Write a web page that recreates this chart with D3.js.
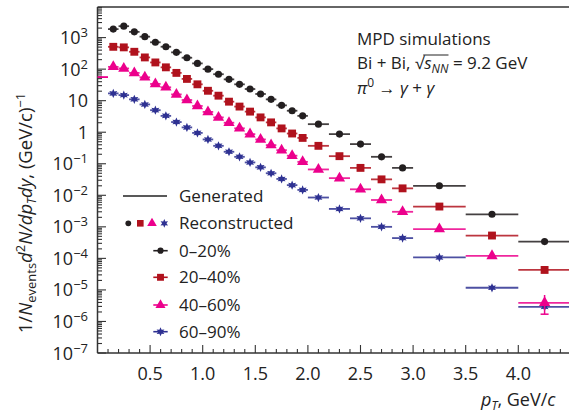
<!DOCTYPE html>
<html><head><meta charset="utf-8">
<script src="https://cdn.jsdelivr.net/npm/d3@7"></script>
<style>body{margin:0;background:#fff}svg{display:block;font-family:"Open Sans",sans-serif}</style>
</head><body><svg id="c" width="569" height="413"></svg>
<script>
// ---- data ----
const binLo = [0.1,0.2,0.3,0.4,0.5,0.6,0.7,0.8,0.9,1.0,1.1,1.2,1.3,1.4,1.5,1.6,1.7,1.8,1.9,2.0,2.2,2.4,2.6,2.8,3.0,3.5,4.0];
const binHi = [0.2,0.3,0.4,0.5,0.6,0.7,0.8,0.9,1.0,1.1,1.2,1.3,1.4,1.5,1.6,1.7,1.8,1.9,2.0,2.2,2.4,2.6,2.8,3.0,3.5,4.0,4.5];
const pT    = [0.15,0.25,0.35,0.45,0.55,0.65,0.75,0.85,0.95,1.05,1.15,1.25,1.35,1.45,1.55,1.65,1.75,1.85,1.95,2.1,2.3,2.5,2.7,2.9,3.25,3.75,4.25];
const c0_20  = [1860,2300,1520,1070,710,513,340,230,152,100,69,47.4,33,23.4,16.3,11,7.1,4.8,3.3,1.8,0.87,0.42,0.166,0.074,0.020,0.0025,0.00034];
const c20_40 = [510,490,355,235,163,114,76,49,33,20.6,14.4,9.3,6.5,4.5,2.95,2.05,1.32,0.91,0.66,0.37,0.174,0.074,0.032,0.0166,0.0044,0.00053,0.000043];
const c40_60 = [118,105,76,55,34,26.5,15.8,10.5,6.8,4.4,2.95,2.0,1.33,0.87,0.59,0.39,0.27,0.18,0.115,0.066,0.035,0.0155,0.0071,0.0030,0.00085,0.00012,0.0000039];
const c60_90 = [17,15,11,7.6,5.0,3.3,2.1,1.42,0.95,0.59,0.37,0.24,0.166,0.11,0.077,0.050,0.033,0.021,0.0148,0.0085,0.0037,0.00186,0.0010,0.00044,0.000107,0.0000117,0.0000029];
const seriesNames = ["0–20%","20–40%","40–60%","60–90%"];
const seriesColors = ["#231f20","#b0121d","#ec008c","#2e3192"];
const seriesValues = [c0_20, c20_40, c40_60, c60_90];
// extra generated segment in first bin (40–60%)
const extraGen = {series:2, lo:0.0, hi:0.1, value:56};
// vertical error of last 40–60% point
const lastErr = {series:2, idx:26, lo:1.7e-6, hi:6.9e-6};
const xTicks = [0.5,1.0,1.5,2.0,2.5,3.0,3.5,4.0];
const yDecades = [-7,-6,-5,-4,-3,-2,-1,0,1,2,3];

// six-pointed star symbol
const star6 = {draw(ctx,size){const r=Math.sqrt(size/1.6), ri=r*0.5;for(let k=0;k<12;k++){const a=-Math.PI/2+k*Math.PI/6, rr=k%2?ri:r; const px=rr*Math.cos(a), py=rr*Math.sin(a); k?ctx.lineTo(px,py):ctx.moveTo(px,py);}ctx.closePath();}};
const seriesSymbols = [d3.symbolCircle, d3.symbolSquare, d3.symbolTriangle, star6];

// ---- scales ----
const svg = d3.select("#c");
const x = d3.scaleLinear().domain([0,4.482]).range([97.5,569]);
const y = d3.scaleLog().domain([1e-7, Math.pow(10,3.97)]).range([353,7]);
const axisColor = "#333";

// frame
svg.append("line").attr("x1",97.5).attr("x2",569).attr("y1",7).attr("y2",7).attr("stroke",axisColor).attr("stroke-width",1.5);
svg.append("line").attr("x1",97.5).attr("x2",569).attr("y1",353).attr("y2",353).attr("stroke",axisColor).attr("stroke-width",1.5);
svg.append("line").attr("x1",97.5).attr("x2",97.5).attr("y1",7).attr("y2",353).attr("stroke",axisColor).attr("stroke-width",1.5);

// x ticks
const xMinor = d3.range(1,45).map(i=>i/10);
svg.append("g").selectAll("line").data(xMinor).join("line")
  .attr("x1",d=>x(d)).attr("x2",d=>x(d))
  .attr("y1",353).attr("y2",d=>Math.abs(d*2-Math.round(d*2))<1e-6?345:349)
  .attr("stroke",axisColor).attr("stroke-width",1.1);
svg.append("g").selectAll("text").data(xTicks).join("text")
  .attr("x",d=>x(d)).attr("y",380).attr("text-anchor","middle")
  .attr("font-size",18).attr("fill","#222").text(d=>d.toFixed(1));

// y ticks
const yMinor = [];
yDecades.forEach(n=>{for(let k=1;k<=9;k++){const v=k*Math.pow(10,n); if(v<=y.domain()[1]) yMinor.push({v,major:k===1});}});
svg.append("g").selectAll("line").data(yMinor).join("line")
  .attr("x1",97.5).attr("x2",d=>d.major?106:102)
  .attr("y1",d=>y(d.v)).attr("y2",d=>y(d.v))
  .attr("stroke",axisColor).attr("stroke-width",1.1);
const yl = svg.append("g").selectAll("text").data(yDecades).join("text")
  .attr("x",88).attr("y",d=>y(Math.pow(10,d))+6.5).attr("text-anchor","end")
  .attr("font-size",18).attr("fill","#222");
yl.each(function(n){
  const t=d3.select(this);
  if(n===0){t.text("1");}
  else if(n===1){t.text("10");}
  else{t.append("tspan").text("10");t.append("tspan").attr("font-size",13).attr("dy",-7).text(n<0?"−"+(-n):String(n));}
});

// axis titles
const xt = svg.append("text").attr("x",481).attr("y",406).attr("font-size",18).attr("fill","#222");
xt.append("tspan").attr("font-style","italic").text("p");
xt.append("tspan").attr("font-style","italic").attr("font-size",12).attr("dy",4).text("T");
xt.append("tspan").attr("dy",-4).text(", GeV/");
xt.append("tspan").attr("font-style","italic").text("c");

const yt = svg.append("text").attr("transform","translate(32,213) rotate(-90)").attr("text-anchor","middle").attr("font-size",18.5).attr("fill","#222");
yt.append("tspan").text("1/");
yt.append("tspan").attr("font-style","italic").text("N");
yt.append("tspan").attr("font-size",13).attr("dy",4).text("events");
yt.append("tspan").attr("font-style","italic").attr("dy",-4).text("d");
yt.append("tspan").attr("font-size",13).attr("dy",-7).text("2");
yt.append("tspan").attr("font-style","italic").attr("dy",7).text("N/dp");
yt.append("tspan").attr("font-style","italic").attr("font-size",12).attr("dy",4).text("T");
yt.append("tspan").attr("font-style","italic").attr("dy",-4).text("dy");
yt.append("tspan").text(", (GeV/c)");
yt.append("tspan").attr("font-size",13).attr("dy",-7).text("−1");

// data
const plot = svg.append("g");
seriesValues.forEach((vals,si)=>{
  const col = seriesColors[si];
  plot.append("g").selectAll("line").data(vals).join("line")
    .attr("x1",(d,i)=>x(binLo[i])).attr("x2",(d,i)=>x(binHi[i]))
    .attr("y1",d=>y(d)).attr("y2",d=>y(d))
    .attr("stroke",col).attr("stroke-opacity",0.85).attr("stroke-width",1.8);
});
plot.append("line").attr("x1",x(extraGen.lo)).attr("x2",x(extraGen.hi))
  .attr("y1",y(extraGen.value)).attr("y2",y(extraGen.value))
  .attr("stroke",seriesColors[extraGen.series]).attr("stroke-width",1.8);
const symSize = [40,62,55,34];
[3,0,1,2].forEach(si=>{
  plot.append("g").selectAll("path").data(seriesValues[si]).join("path")
    .attr("transform",(d,i)=>`translate(${x(pT[i])},${y(d)})`)
    .attr("d",d3.symbol(seriesSymbols[si],symSize[si])())
    .attr("fill",seriesColors[si]);
});
plot.append("line").attr("x1",x(pT[lastErr.idx])).attr("x2",x(pT[lastErr.idx]))
  .attr("y1",y(lastErr.lo)).attr("y2",y(lastErr.hi))
  .attr("stroke",seriesColors[lastErr.series]).attr("stroke-width",1.5);
plot.append("line").attr("x1",x(pT[lastErr.idx])-4).attr("x2",x(pT[lastErr.idx])+4)
  .attr("y1",y(lastErr.lo)).attr("y2",y(lastErr.lo))
  .attr("stroke",seriesColors[lastErr.series]).attr("stroke-width",1.5);

// legend
const lg = svg.append("g").attr("font-size",17).attr("fill","#222");
lg.append("line").attr("x1",123).attr("x2",167).attr("y1",196).attr("y2",196).attr("stroke","#222").attr("stroke-width",1.5);
lg.append("text").attr("x",179).attr("y",202).text("Generated");
const recX=[128.3,140.3,152,164.3];
seriesSymbols.forEach((s,i)=>{
  lg.append("path").attr("transform",`translate(${recX[i]},223.3)`).attr("d",d3.symbol(s,[26,44,40,30][i])()).attr("fill",seriesColors[i]);
});
lg.append("text").attr("x",179).attr("y",229.3).text("Reconstructed");
const rowY=[250.7,277.3,305,331.7];
seriesNames.forEach((nm,i)=>{
  lg.append("line").attr("x1",153.3).attr("x2",167.7).attr("y1",rowY[i]).attr("y2",rowY[i]).attr("stroke",seriesColors[i]).attr("stroke-width",1.6);
  lg.append("path").attr("transform",`translate(160.5,${rowY[i]})`).attr("d",d3.symbol(seriesSymbols[i],[30,48,44,32][i])()).attr("fill",seriesColors[i]);
  lg.append("text").attr("x",179).attr("y",rowY[i]+6).text(nm);
});

// annotation
const an = svg.append("g").attr("font-size",17).attr("fill","#222");
an.append("text").attr("x",357).attr("y",45).text("MPD simulations");
const l2 = an.append("text").attr("x",357).attr("y",69);
l2.append("tspan").text("Bi + Bi, √");
l2.append("tspan").attr("font-style","italic").attr("class","s").text("s");
l2.append("tspan").attr("font-style","italic").attr("font-size",12).attr("dy",4).text("NN");
l2.append("tspan").attr("dy",-4).text(" = 9.2 GeV");
const l3 = an.append("text").attr("x",357).attr("y",94);
l3.append("tspan").attr("font-style","italic").text("π");
l3.append("tspan").attr("font-size",12).attr("dy",-7).text("0");
l3.append("tspan").attr("dy",7).text(" →");
l3.append("tspan").attr("font-style","italic").text(" γ");
l3.append("tspan").text(" + ");
l3.append("tspan").attr("font-style","italic").text("γ");
const sNode = l2.select("tspan.s").node();
try{
  const st = sNode.getStartPositionOfChar(0).x, en = l2.selectAll("tspan").nodes()[2].getEndPositionOfChar(1).x;
  an.append("line").attr("x1",st-1).attr("x2",en).attr("y1",55).attr("y2",55).attr("stroke","#222").attr("stroke-width",1);
}catch(e){}
</script></body></html>
